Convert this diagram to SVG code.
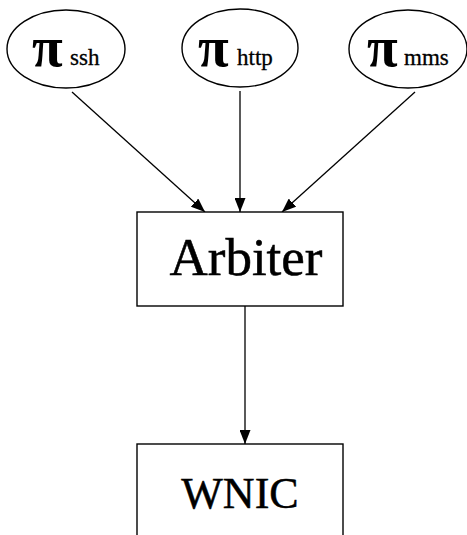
<svg xmlns="http://www.w3.org/2000/svg" width="467" height="535" viewBox="0 0 467 535">
<style>
.node ellipse, .node rect { fill: #fff; stroke: #000; stroke-width: 1.4; }
.pi { font-family: 'Liberation Serif', 'DejaVu Serif', serif; font-weight: bold; font-size: 56px; fill: #000; }
.sub { font-family: 'Liberation Serif', 'Times New Roman', serif; font-size: 23px; fill: #000; stroke: #000; stroke-width: 0.3; }
.big { font-family: 'Liberation Serif', 'Times New Roman', serif; fill: #000; text-anchor: middle; stroke: #000; stroke-width: 0.5; }
#edges line { stroke: #000; stroke-width: 1.3; marker-end: url(#arr); }
</style>
<defs>
<marker id="arr" markerUnits="userSpaceOnUse" markerWidth="15" markerHeight="11" refX="14" refY="5.5" orient="auto">
<path d="M0,0 L14,5.5 L0,11 Z" fill="#000"/>
</marker>
</defs>
<rect width="467" height="535" fill="#fff"/>
<g id="edges">
<line x1="72" y1="92" x2="205" y2="212"/>
<line x1="240" y1="91" x2="240" y2="212"/>
<line x1="415" y1="92" x2="282" y2="212"/>
<line x1="245" y1="306" x2="245" y2="444"/>
</g>
<g id="pi_ssh" class="node">
<ellipse cx="66" cy="49" rx="59" ry="39"/>
<text class="pi" x="32" y="66">π</text>
<text class="sub" x="70" y="65">ssh</text>
</g>
<g id="pi_http" class="node">
<ellipse cx="240" cy="48" rx="58" ry="39"/>
<text class="pi" x="198" y="66">π</text>
<text class="sub" x="237" y="65">http</text>
</g>
<g id="pi_mms" class="node">
<ellipse cx="408" cy="49" rx="59" ry="39"/>
<text class="pi" x="367" y="66">π</text>
<text class="sub" x="404" y="65">mms</text>
</g>
<g id="arbiter" class="node">
<rect x="137" y="212" width="206" height="94"/>
<text class="big" x="246" y="275" font-size="53">Arbiter</text>
</g>
<g id="wnic" class="node">
<rect x="137" y="444" width="206" height="100"/>
<text class="big" x="240" y="508" font-size="44">WNIC</text>
</g>
</svg>
